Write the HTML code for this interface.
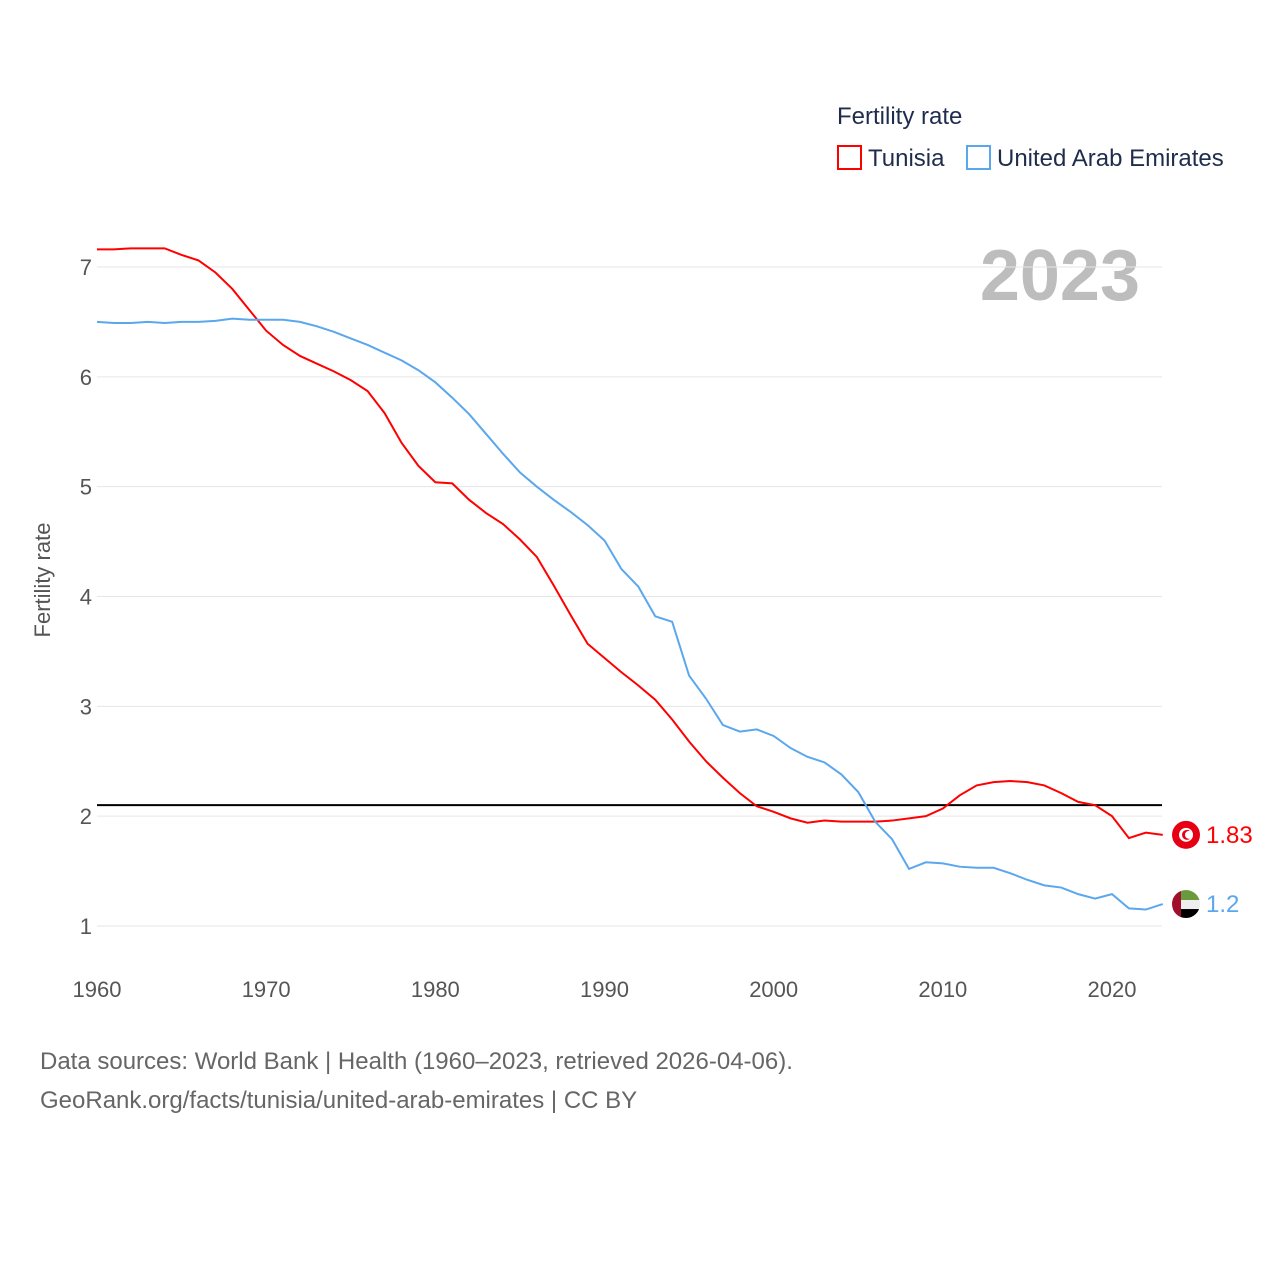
<!DOCTYPE html>
<html><head><meta charset="utf-8"><style>
body{margin:0;background:#fff;width:1280px;height:1280px;overflow:hidden;font-family:"Liberation Sans",sans-serif}
</style></head><body>
<svg id="chart" width="1280" height="1280" xmlns="http://www.w3.org/2000/svg" font-family="Liberation Sans, sans-serif">
<text x="837" y="124" font-size="24" fill="#1f2d4d">Fertility rate</text>
<g><rect x="838" y="146" width="23" height="23" fill="none" stroke="#ff0000" stroke-width="2"/><text x="868" y="166" font-size="24" fill="#1f2d4d">Tunisia</text></g>
<g><rect x="967" y="146" width="23" height="23" fill="none" stroke="#5ba7ee" stroke-width="2"/><text x="997" y="166" font-size="24" fill="#1f2d4d">United Arab Emirates</text></g>
<text x="1140" y="300" font-size="72" font-weight="bold" fill="#bdbdbd" text-anchor="end">2023</text>
<text transform="translate(50,580) rotate(-90)" font-size="22" fill="#555" text-anchor="middle">Fertility rate</text>
<g id="grid"></g><g id="xt"></g>
<line id="ref" x1="97" x2="1162" stroke="#000" stroke-width="2"/>
<g id="series"></g>
<text x="40" y="1069" font-size="24" fill="#666">Data sources: World Bank | Health (1960–2023, retrieved 2026-04-06).</text>
<text x="40" y="1108" font-size="24" fill="#666">GeoRank.org/facts/tunisia/united-arab-emirates | CC BY</text>
</svg>
<script>
const years=[];for(let y=1960;y<=2023;y++)years.push(y);
const tunisia=[7.16,7.16,7.17,7.17,7.17,7.11,7.06,6.95,6.80,6.61,6.42,6.29,6.19,6.12,6.05,5.97,5.87,5.67,5.40,5.19,5.04,5.03,4.88,4.76,4.66,4.52,4.36,4.10,3.83,3.57,3.44,3.31,3.19,3.06,2.88,2.68,2.50,2.35,2.21,2.09,2.04,1.98,1.94,1.96,1.95,1.95,1.95,1.96,1.98,2.00,2.07,2.19,2.28,2.31,2.32,2.31,2.28,2.21,2.13,2.10,2.00,1.80,1.85,1.83];
const uae=[6.50,6.49,6.49,6.50,6.49,6.50,6.50,6.51,6.53,6.52,6.52,6.52,6.50,6.46,6.41,6.35,6.29,6.22,6.15,6.06,5.95,5.81,5.66,5.48,5.30,5.13,5.00,4.88,4.77,4.65,4.51,4.25,4.09,3.82,3.77,3.28,3.07,2.83,2.77,2.79,2.73,2.62,2.54,2.49,2.38,2.22,1.95,1.79,1.52,1.58,1.57,1.54,1.53,1.53,1.48,1.42,1.37,1.35,1.29,1.25,1.29,1.16,1.15,1.20];
const yTicks=[1,2,3,4,5,6,7];
const xTicks=[1960,1970,1980,1990,2000,2010,2020];
const refValue=2.1;
const X=y=>97+(y-1960)*(1015/60);
const Y=v=>926-(v-1)*(659/6);
const NS="http://www.w3.org/2000/svg";
function mk(t,a,p){const e=document.createElementNS(NS,t);for(const k in a)e.setAttribute(k,a[k]);p.appendChild(e);return e;}
const grid=document.getElementById('grid');
yTicks.forEach(v=>{
 const l=mk('line',{x1:97,x2:1162,y1:Y(v),y2:Y(v),stroke:'#e6e6e6','stroke-width':1},grid);
 
 
 const t=mk('text',{x:92,y:Y(v)+8,'font-size':22,fill:'#555','text-anchor':'end'},grid);t.textContent=v;
 
 
});
const xt=document.getElementById('xt');
xTicks.forEach(v=>{
 const t=mk('text',{x:X(v),y:997,'font-size':22,fill:'#555','text-anchor':'middle'},xt);t.textContent=v;
 
 
});
const ref=document.getElementById('ref');ref.setAttribute('y1',Y(refValue));ref.setAttribute('y2',Y(refValue));
const s=document.getElementById('series');
[[tunisia,'#ff0000','tunisia','1.83'],[uae,'#5ba7ee','uae','1.2']].forEach(([d,c,n,lab])=>{
 const p=mk('polyline',{points:d.map((v,i)=>X(years[i])+','+Y(v)).join(' '),fill:'none',stroke:c,'stroke-width':2},s);
 
 
 const last=d[d.length-1],cy=Y(last);
 const f=mk('circle',{cx:1186,cy:cy,r:14,fill:n==='tunisia'?'#e70013':'#fff'},s);
 
 
 if(n==='tunisia'){
  mk('circle',{cx:1186,cy:cy,r:7,fill:'#fff'},s);
  mk('circle',{cx:1187,cy:cy,r:5,fill:'#e70013'},s);
  mk('circle',{cx:1189,cy:cy,r:4,fill:'#fff'},s);
 } else {
  const g=mk('g',{},s);
  mk('clipPath',{id:'cp'},g).appendChild(document.createElementNS(NS,'circle'));
  const cc=g.querySelector('clipPath circle');cc.setAttribute('cx',1186);cc.setAttribute('cy',cy);cc.setAttribute('r',14);
  const g2=mk('g',{'clip-path':'url(#cp)'},g);
  mk('rect',{x:1172,y:cy-14,width:28,height:10,fill:'#6a9a3c'},g2);
  mk('rect',{x:1172,y:cy-4,width:28,height:9,fill:'#eee'},g2);
  mk('rect',{x:1172,y:cy+5,width:28,height:10,fill:'#000'},g2);
  mk('rect',{x:1172,y:cy-14,width:9,height:28,fill:'#a0102a'},g2);
 }
 const t=mk('text',{x:1206,y:cy+8,'font-size':24,fill:c},s);t.textContent=lab;
 
 
});
</script>
</body></html>
